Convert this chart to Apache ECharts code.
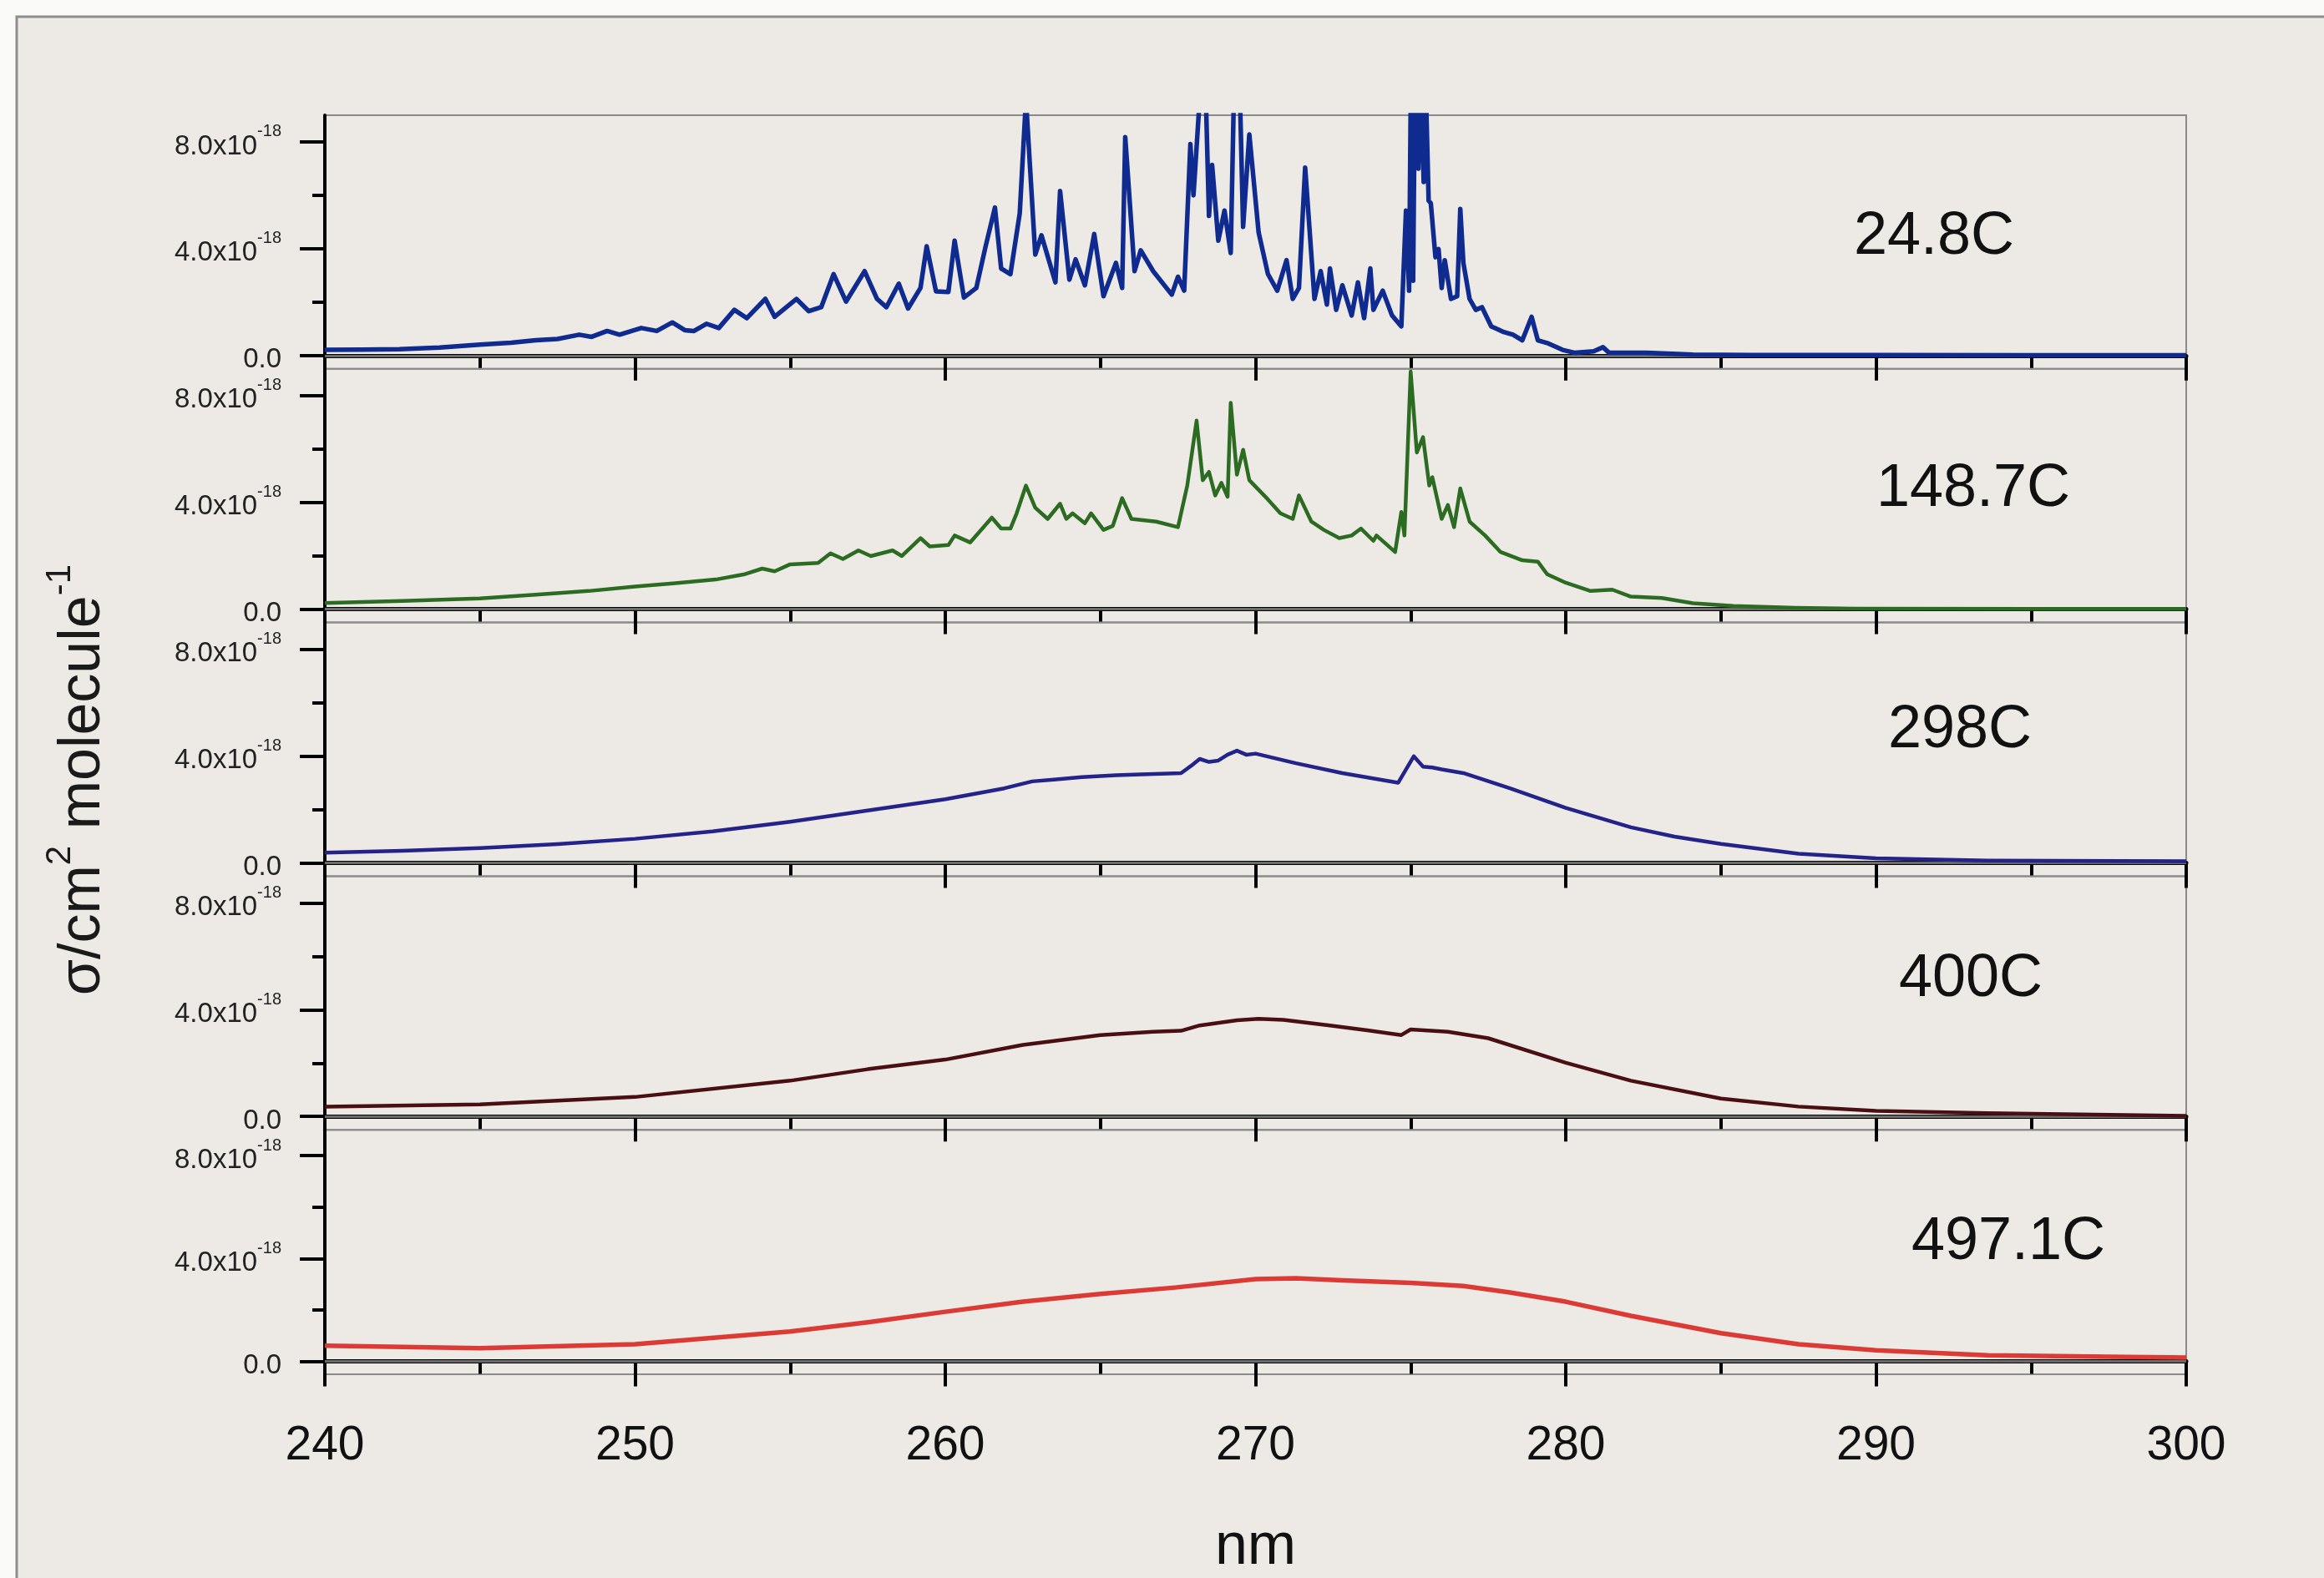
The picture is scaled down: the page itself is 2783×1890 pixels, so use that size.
<!DOCTYPE html>
<html>
<head>
<meta charset="utf-8">
<title>σ vs nm</title>
<script src="https://cdn.jsdelivr.net/npm/echarts@6.0.0/dist/echarts.min.js"></script>
<style>
  html, body { margin: 0; padding: 0; background: #f9f9f8; }
  #main { width: 2783px; height: 1890px; }
</style>
</head>
<body>
<div id="main"></div>
<script>
/* values are in units of 1e-18 cm2/molecule */

// 24.8C
var wl248 = [240.0, 241.2, 242.4, 243.7, 245.0, 246.0, 246.8, 247.5, 248.2, 248.6, 249.1, 249.5, 250.2, 250.7, 251.2, 251.6, 251.9, 252.3, 252.7, 253.2, 253.6, 254.2, 254.5, 255.2, 255.6, 256.0, 256.4, 256.8, 257.4, 257.8, 258.1, 258.5, 258.8, 259.2, 259.4, 259.7, 260.1, 260.3, 260.6, 261.0, 261.3, 261.6, 261.8, 262.1, 262.4, 262.6, 262.9, 263.1, 263.55, 263.7, 264.0, 264.2, 264.5, 264.8, 265.1, 265.5, 265.7, 265.8, 266.1, 266.3, 266.7, 267.3, 267.5, 267.7, 267.9, 268.0, 268.2, 268.4, 268.5, 268.6, 268.8, 269.0, 269.2, 269.3, 269.5, 269.6, 269.8, 270.1, 270.4, 270.7, 271.0, 271.2, 271.4, 271.6, 271.9, 272.1, 272.3, 272.4, 272.6, 272.8, 273.1, 273.3, 273.5, 273.7, 273.8, 274.1, 274.4, 274.7, 274.85, 274.95, 275.02, 275.08, 275.15, 275.25, 275.32, 275.42, 275.5, 275.58, 275.65, 275.8, 275.9, 276.0, 276.1, 276.3, 276.5, 276.6, 276.7, 276.9, 277.1, 277.3, 277.6, 277.8, 278.0, 278.3, 278.6, 278.9, 279.1, 279.4, 279.9, 280.3, 280.9, 281.2, 281.4, 282.6, 284.1, 286.0, 290.0, 295.0, 300.0];
var sig248 = [0.21, 0.22, 0.24, 0.30, 0.41, 0.48, 0.57, 0.62, 0.78, 0.70, 0.92, 0.78, 1.03, 0.92, 1.24, 0.95, 0.92, 1.19, 1.03, 1.71, 1.40, 2.12, 1.45, 2.12, 1.66, 1.81, 3.05, 2.02, 3.16, 2.12, 1.81, 2.69, 1.76, 2.53, 4.09, 2.40, 2.38, 4.30, 2.17, 2.53, 4.09, 5.54, 3.26, 3.05, 5.33, 9.60, 3.78, 4.50, 2.74, 6.16, 2.84, 3.60, 2.63, 4.55, 2.22, 3.47, 2.53, 8.18, 3.16, 3.94, 3.16, 2.28, 2.95, 2.43, 7.92, 6.00, 9.60, 9.60, 5.23, 7.14, 4.30, 5.43, 3.84, 9.60, 9.60, 4.82, 8.28, 4.61, 3.05, 2.43, 3.57, 2.12, 2.53, 7.04, 2.12, 3.16, 1.91, 3.26, 1.71, 2.63, 1.50, 2.74, 1.40, 3.26, 1.71, 2.43, 1.50, 1.09, 5.43, 2.43, 12.0, 2.80, 12.0, 7.00, 11.0, 6.50, 9.50, 5.80, 5.70, 3.68, 3.99, 2.53, 3.57, 2.12, 2.22, 5.49, 3.47, 2.12, 1.71, 1.81, 1.09, 0.99, 0.88, 0.78, 0.57, 1.45, 0.57, 0.47, 0.21, 0.10, 0.16, 0.31, 0.10, 0.10, 0.03, 0.02, 0.02, 0.01, 0.01];

// 148.7C
var wl1487 = [240.0, 242.5, 245.0, 246.8, 248.5, 250.0, 251.3, 252.6, 253.5, 254.1, 254.5, 255.0, 255.9, 256.3, 256.7, 257.2, 257.6, 258.3, 258.6, 259.2, 259.5, 260.1, 260.3, 260.8, 261.5, 261.8, 262.1, 262.3, 262.6, 262.9, 263.3, 263.7, 263.9, 264.1, 264.5, 264.7, 265.1, 265.4, 265.7, 266.0, 266.8, 267.5, 267.8, 268.1, 268.3, 268.5, 268.7, 268.9, 269.1, 269.2, 269.4, 269.6, 269.8, 270.4, 270.8, 271.2, 271.4, 271.8, 272.2, 272.7, 273.1, 273.4, 273.8, 273.9, 274.5, 274.7, 274.8, 275.0, 275.2, 275.4, 275.6, 275.7, 276.0, 276.2, 276.4, 276.6, 276.9, 277.4, 277.9, 278.6, 279.1, 279.4, 280.0, 280.8, 281.5, 282.1, 283.1, 284.1, 285.4, 287.4, 289.3, 295.0, 300.0];
var sig1487 = [0.23, 0.31, 0.40, 0.54, 0.68, 0.85, 0.97, 1.11, 1.30, 1.52, 1.42, 1.68, 1.73, 2.09, 1.88, 2.20, 1.99, 2.20, 1.99, 2.66, 2.35, 2.40, 2.76, 2.50, 3.43, 3.02, 3.02, 3.59, 4.63, 3.80, 3.38, 3.95, 3.38, 3.59, 3.22, 3.59, 2.97, 3.12, 4.16, 3.38, 3.28, 3.07, 4.63, 7.06, 4.83, 5.14, 4.26, 4.73, 4.21, 7.73, 5.04, 5.97, 4.83, 4.11, 3.59, 3.38, 4.26, 3.28, 2.97, 2.66, 2.76, 3.02, 2.56, 2.76, 2.14, 3.64, 2.76, 8.90, 5.87, 6.44, 4.63, 4.94, 3.38, 3.90, 3.07, 4.52, 3.28, 2.76, 2.14, 1.83, 1.78, 1.31, 0.99, 0.68, 0.73, 0.47, 0.42, 0.22, 0.12, 0.05, 0.02, 0.01, 0.01];

// 298C
var wl298 = [240.0, 242.5, 245.0, 247.5, 250.0, 252.5, 255.0, 257.5, 260.0, 261.9, 262.8, 263.5, 264.4, 265.5, 266.3, 267.6, 268.0, 268.2, 268.5, 268.8, 269.1, 269.4, 269.7, 270.0, 271.3, 272.8, 274.6, 275.1, 275.4, 275.7, 276.0, 276.7, 278.2, 280.0, 282.1, 283.5, 285.0, 287.5, 290.0, 293.6, 300.0];
var sig298 = [0.38, 0.45, 0.55, 0.70, 0.90, 1.18, 1.54, 1.96, 2.38, 2.79, 3.05, 3.12, 3.21, 3.28, 3.31, 3.36, 3.70, 3.89, 3.78, 3.83, 4.05, 4.20, 4.05, 4.09, 3.73, 3.36, 3.00, 3.99, 3.60, 3.57, 3.50, 3.36, 2.79, 2.06, 1.33, 0.98, 0.71, 0.34, 0.17, 0.08, 0.06];

// 400C
var wl400 = [240.0, 245.0, 250.0, 255.0, 257.5, 260.0, 262.5, 265.0, 266.7, 267.6, 268.2, 269.4, 270.1, 270.9, 272.4, 273.6, 274.7, 275.0, 276.2, 277.5, 280.0, 282.1, 285.0, 287.5, 290.0, 293.6, 300.0];
var sig400 = [0.37, 0.45, 0.73, 1.34, 1.77, 2.13, 2.68, 3.05, 3.17, 3.21, 3.41, 3.60, 3.66, 3.62, 3.41, 3.23, 3.05, 3.26, 3.17, 2.93, 2.01, 1.34, 0.67, 0.37, 0.21, 0.12, 0.02];

// 497.1C
var wl4971 = [240.0, 245.0, 250.0, 255.0, 257.5, 260.0, 262.5, 265.0, 267.4, 270.0, 271.3, 272.8, 275.0, 276.7, 278.2, 280.0, 282.1, 285.0, 287.5, 290.0, 293.6, 297.5, 300.0];
var sig4971 = [0.61, 0.51, 0.67, 1.16, 1.52, 1.93, 2.32, 2.62, 2.87, 3.20, 3.23, 3.15, 3.05, 2.93, 2.68, 2.32, 1.77, 1.10, 0.67, 0.43, 0.24, 0.18, 0.15];

var panelNames = ['24.8C', '148.7C', '298C', '400C', '497.1C'];
var panelWl = [wl248, wl1487, wl298, wl400, wl4971];
var panelSig = [sig248, sig1487, sig298, sig400, sig4971];
var panelColors = ['#0f2b8f', '#2c6b22', '#23238a', '#4a0f14', '#dc3a34'];
var panelWidths = [5.5, 4.5, 4.5, 4.5, 5.5];

var xTicks = [240, 250, 260, 270, 280, 290, 300];
var yMajor = [0, 4, 8];
var yMinor = [2, 6];

// label positions (centre) of the temperature texts
var labelPos = [[2316, 284], [2363, 586], [2347, 875], [2360, 1173], [2405, 1488]];

var FONT = '"Liberation Sans", Arial, sans-serif';
var chart = echarts.init(document.getElementById('main'));

var gridTop = 138, gridH = 303.8, gridLeft = 389, gridW = 2229;

var grids = [], xAxes = [], yAxes = [], series = [], graphics = [];

// outer frame
graphics.push({
  type: 'rect', z: -10,
  shape: { x: 20, y: 20, width: 2800, height: 1900 },
  style: { fill: '#edeae6', stroke: '#8d8d8d', lineWidth: 3 }
});

for (var i = 0; i < 5; i++) {
  grids.push({
    left: gridLeft, top: gridTop + i * gridH, width: gridW, height: gridH,
    show: true, borderColor: '#8a8a8a', borderWidth: 2, backgroundColor: 'transparent'
  });
  var last = (i === 4);
  xAxes.push({
    type: 'value', gridIndex: i, min: xTicks[0], max: xTicks[xTicks.length - 1], interval: 10,
    axisLine: { show: true, lineStyle: { color: '#000', width: 5 } },
    axisTick: { show: true, length: 30, lineStyle: { color: '#000', width: 4 } },
    minorTick: { show: true, splitNumber: 2, length: 15, lineStyle: { color: '#000', width: 4 } },
    splitLine: { show: false },
    axisLabel: { show: last, fontSize: 57, color: '#111', fontFamily: FONT, margin: 58 },
    name: last ? 'nm' : '', nameLocation: 'middle', nameGap: 173,
    nameTextStyle: { fontSize: 70, color: '#111', fontFamily: FONT }
  });
  // major ticks + labels
  yAxes.push({
    type: 'value', gridIndex: i, min: -0.5, max: 9, position: 'left',
    axisLine: { show: true, lineStyle: { color: '#000', width: 4 } },
    axisTick: { show: true, length: 30, customValues: yMajor, lineStyle: { color: '#000', width: 4 } },
    splitLine: { show: false },
    axisLabel: {
      customValues: yMajor, margin: 52,
      formatter: function (v) {
        if (v === 0) return '{a|0.0}';
        return '{a|' + v.toFixed(1) + 'x10}{e|-18}';
      },
      rich: {
        a: { fontSize: 33, color: '#222', fontFamily: FONT, lineHeight: 44, verticalAlign: 'bottom' },
        e: { fontSize: 20, color: '#222', fontFamily: FONT, lineHeight: 18, verticalAlign: 'top' }
      }
    }
  });
  // minor ticks
  yAxes.push({
    type: 'value', gridIndex: i, min: -0.5, max: 9, position: 'left',
    axisLine: { show: false },
    axisTick: { show: true, length: 15, customValues: yMinor, lineStyle: { color: '#000', width: 4 } },
    splitLine: { show: false },
    axisLabel: { show: false }
  });

  var pts = panelWl[i].map(function (x, k) { return [x, panelSig[i][k]]; });
  series.push({
    name: panelNames[i], type: 'line', xAxisIndex: i, yAxisIndex: i * 2,
    data: pts, showSymbol: false, symbol: 'none', smooth: false, clip: true,
    lineStyle: { color: panelColors[i], width: panelWidths[i], join: 'round' },
    markLine: {
      silent: true, symbol: 'none', label: { show: false }, z: 1,
      lineStyle: { color: '#6a6a6a', width: 3, type: 'solid' },
      data: [{ yAxis: 0 }]
    },
    z: 5
  });

  graphics.push({
    type: 'text', x: labelPos[i][0], y: labelPos[i][1], z: 20,
    style: { text: panelNames[i], font: '72px ' + FONT, fill: '#111', align: 'center', verticalAlign: 'middle' }
  });
}

// y axis title
graphics.push({
  type: 'text', x: 93, y: 934, rotation: Math.PI / 2, z: 20,
  style: {
    text: '{a|σ/cm}{s|2}{a| molecule}{s|-1}',
    align: 'center', verticalAlign: 'middle',
    rich: {
      a: { fontSize: 70, fill: '#1a1a1a', fontFamily: FONT, lineHeight: 84, verticalAlign: 'bottom' },
      s: { fontSize: 42, fill: '#1a1a1a', fontFamily: FONT, lineHeight: 40, verticalAlign: 'top' }
    }
  }
});

chart.setOption({
  backgroundColor: '#f9f9f8',
  animation: false,
  grid: grids,
  xAxis: xAxes,
  yAxis: yAxes,
  series: series,
  graphic: graphics
});
</script>
</body>
</html>
